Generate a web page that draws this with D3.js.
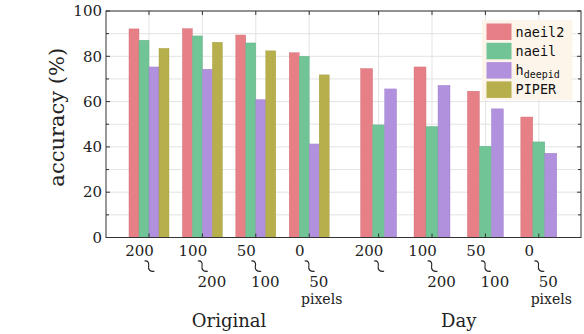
<!DOCTYPE html>
<html><head><meta charset="utf-8">
<script src="https://cdn.jsdelivr.net/npm/d3@7"></script>
<style>html,body{margin:0;padding:0;background:#fff;}svg{display:block;}
.serif{font-family:"DejaVu Serif",serif;}
.mono{font-family:"DejaVu Sans Mono",monospace;}
</style>
</head><body>
<svg id="c" width="584" height="334"></svg>
<script>
// ---- data ----
const sections = ["Original", "Day"];
const rangeFrom = ["200", "100", "50", "0"];
const rangeTo = ["", "200", "100", "50"];
const rangeUnit = ["", "", "", "pixels"];
const seriesOriginal = ["naeil2", "naeil", "h_deepid", "PIPER"];
const seriesDay = ["naeil2", "naeil", "h_deepid"];
const naeil2Original = [92.1, 92.2, 89.4, 81.6];
const naeilOriginal = [87.1, 89.0, 85.9, 80.0];
const hdeepidOriginal = [75.3, 74.3, 60.9, 41.3];
const piperOriginal = [83.5, 86.2, 82.4, 71.8];
const naeil2Day = [74.6, 75.3, 64.6, 53.2];
const naeilDay = [49.7, 49.0, 40.3, 42.2];
const hdeepidDay = [65.6, 67.2, 56.8, 37.2];
const yTicks = [0, 20, 40, 60, 80, 100];
const yGrid = [0, 10, 20, 30, 40, 50, 60, 70, 80, 90, 100];

const colors = {naeil2: "#e67f86", naeil: "#70c496", h_deepid: "#b191dd", PIPER: "#b6af4b"};

const svg = d3.select("#c");
const L = 106, R = 581, T = 11, B = 237.5;
const sectionGap = 0.3;
const x = d3.scaleLinear().domain([-0.805, 8.09]).range([L, R]);
const y = d3.scaleLinear().domain([0, 100]).range([B, T]);
const pos = (s, i) => s * (rangeFrom.length + sectionGap) + i;

const inner = [
  d3.scaleBand().domain(seriesOriginal).range([-20, 20]),
  d3.scaleBand().domain(seriesDay).range([-18, 18])
];
const values = [
  {naeil2: naeil2Original, naeil: naeilOriginal, h_deepid: hdeepidOriginal, PIPER: piperOriginal},
  {naeil2: naeil2Day, naeil: naeilDay, h_deepid: hdeepidDay}
];

// grid
const g = svg.append("g");
g.selectAll("line.hg").data(yGrid).join("line")
  .attr("x1", L).attr("x2", R).attr("y1", d => y(d)).attr("y2", d => y(d))
  .attr("stroke", "#e3e3e3").attr("stroke-width", 1);
const centers = [];
sections.forEach((s, si) => rangeFrom.forEach((r, i) => centers.push({si, i, cx: x(pos(si, i))})));
g.selectAll("line.vg").data(centers).join("line")
  .attr("x1", d => d.cx).attr("x2", d => d.cx).attr("y1", T).attr("y2", B)
  .attr("stroke", "#e3e3e3").attr("stroke-width", 1);

// bars
sections.forEach((s, si) => {
  const sc = inner[si];
  const bars = [];
  sc.domain().forEach(name => values[si][name].forEach((v, i) => bars.push({name, v, i})));
  svg.append("g").selectAll("rect").data(bars).join("rect")
    .attr("x", d => x(pos(si, d.i)) + sc(d.name))
    .attr("width", sc.bandwidth())
    .attr("y", d => y(d.v))
    .attr("height", d => y(0) - y(d.v))
    .attr("fill", d => colors[d.name])
    .attr("stroke", d => d3.color(colors[d.name]).darker(0.3))
    .attr("stroke-width", 0.4);
});

// frame & ticks
const ax = svg.append("g").attr("stroke", "#333").attr("stroke-width", 1);
ax.append("rect").attr("x", L).attr("y", T).attr("width", R - L).attr("height", B - T).attr("fill", "none");
ax.selectAll("line.lt").data(yGrid).join("line")
  .attr("x1", L).attr("x2", d => L + (d % 20 === 0 ? 4 : 3)).attr("y1", d => y(d)).attr("y2", d => y(d));
ax.selectAll("line.rt").data(yGrid).join("line")
  .attr("x1", R).attr("x2", d => R - (d % 20 === 0 ? 4 : 3)).attr("y1", d => y(d)).attr("y2", d => y(d));
ax.selectAll("line.tt").data(centers).join("line")
  .attr("x1", d => d.cx).attr("x2", d => d.cx).attr("y1", T).attr("y2", T + 4);
ax.selectAll("line.bt").data(centers).join("line")
  .attr("x1", d => d.cx).attr("x2", d => d.cx).attr("y1", B).attr("y2", B - 4);

// y tick labels
svg.append("g").selectAll("text").data(yTicks).join("text")
  .attr("class", "serif")
  .attr("x", L - 4).attr("y", d => y(d)).attr("dy", "0.35em")
  .attr("text-anchor", "end").attr("font-size", 15).attr("fill", "#222")
  .text(d => d);
svg.append("text").attr("class", "serif").attr("transform", `translate(58,${(T + B) / 2 - 7}) rotate(-90)`)
  .attr("text-anchor", "middle").attr("font-size", 21).attr("fill", "#222")
  .attr("dy", "0.3em").text("accuracy (%)");

// x tick labels (two-line ranges joined by a vertical squiggle)
const xl = svg.append("g").attr("font-size", 15).attr("fill", "#222");
const squiggle = cx => `M${cx - 4.5},261 C${cx - 1},260.3 ${cx + 0.3},263 ${cx - 0.4},266.2 C${cx - 1},269.5 ${cx + 1},272 ${cx + 5.5},271.3`;
centers.forEach(c => {
  xl.append("text").attr("class", "serif").attr("x", c.cx - 9.5).attr("y", 256).attr("text-anchor", "middle").text(rangeFrom[c.i]);
  xl.append("path").attr("d", squiggle(c.cx)).attr("fill", "none").attr("stroke", "#222").attr("stroke-width", 1.1);
  if (rangeTo[c.i]) xl.append("text").attr("class", "serif").attr("x", c.cx + 9.5).attr("y", 286.5).attr("text-anchor", "middle").text(rangeTo[c.i]);
  if (rangeUnit[c.i]) xl.append("text").attr("class", "serif").attr("x", c.cx + 12.5).attr("y", 303.5).attr("text-anchor", "middle").attr("font-size", 14).text(rangeUnit[c.i]);
});
sections.forEach((s, si) => {
  svg.append("text").attr("class", "serif").attr("x", (x(pos(si, 0)) + x(pos(si, rangeFrom.length - 1))) / 2).attr("y", 327)
    .attr("text-anchor", "middle").attr("font-size", 18).attr("fill", "#222").text(s);
});

// legend
const lg = svg.append("g");
lg.append("rect").attr("x", 482).attr("y", 20).attr("width", 90.5).attr("height", 80).attr("fill", "#fdf5ea");
seriesOriginal.forEach((name, k) => {
  const yy = 23.5 + k * 19.3;
  lg.append("rect").attr("x", 486.5).attr("y", yy).attr("width", 25).attr("height", 16.5).attr("fill", colors[name]);
  const t = lg.append("text").attr("class", "mono").attr("x", 515.5).attr("y", yy + 13)
    .attr("font-size", 13.5).attr("fill", "#111");
  if (name === "h_deepid") {
    t.append("tspan").text("h");
    t.append("tspan").attr("font-size", 10).attr("dy", 3).text("deepid");
  } else t.text(name);
});
</script>
</body></html>
